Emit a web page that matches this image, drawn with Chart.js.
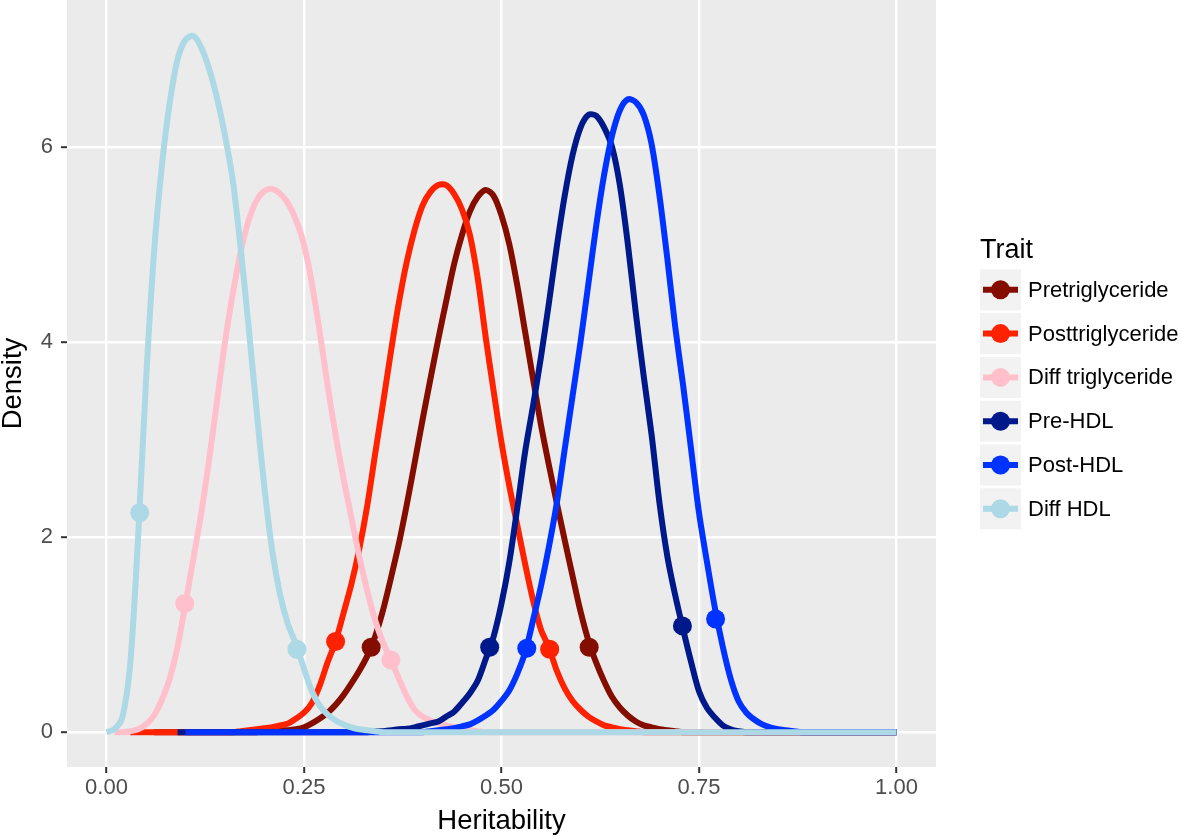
<!DOCTYPE html>
<html>
<head>
<meta charset="utf-8">
<title>Heritability density</title>
<script src="https://cdn.jsdelivr.net/npm/chart.js@4.4.1/dist/chart.umd.min.js"></script>
<style>
    html, body { margin: 0; padding: 0; background: #fff; }
    .chart-box { position: relative; width: 1181px; height: 837px; }
</style>
</head>
<body>
<div class="chart-box"><canvas id="myChart"></canvas></div>
<script>
// data
const traits = ['Pretriglyceride', 'Posttriglyceride', 'Diff triglyceride', 'Pre-HDL', 'Post-HDL', 'Diff HDL']
const colors = ['#840d00', '#ff2200', '#ffc0cb', '#00198a', '#0033ff', '#add8e6']

const heritability = [
    0.00, 0.01, 0.02, 0.03, 0.04, 0.05, 0.06, 0.07, 0.08, 0.09,
    0.10, 0.11, 0.12, 0.13, 0.14, 0.15, 0.16, 0.17, 0.18, 0.19,
    0.20, 0.21, 0.22, 0.23, 0.24, 0.25, 0.26, 0.27, 0.28, 0.29,
    0.30, 0.31, 0.32, 0.33, 0.34, 0.35, 0.36, 0.37, 0.38, 0.39,
    0.40, 0.41, 0.42, 0.43, 0.44, 0.45, 0.46, 0.47, 0.48, 0.49,
    0.50, 0.51, 0.52, 0.53, 0.54, 0.55, 0.56, 0.57, 0.58, 0.59,
    0.60, 0.61, 0.62, 0.63, 0.64, 0.65, 0.66, 0.67, 0.68, 0.69,
    0.70, 0.71, 0.72, 0.73, 0.74, 0.75, 0.76, 0.77, 0.78, 0.79,
    0.80, 0.81, 0.82, 0.83, 0.84, 0.85, 0.86, 0.87, 0.88, 0.89,
    0.90, 0.91, 0.92, 0.93, 0.94, 0.95, 0.96, 0.97, 0.98, 0.99,
    1.00
]

const preTg = [
    null, null, null, null, null, null, 0, 0, 0, 0,
    0, 0, 0, 0, 0, 0, 0, 0, 0, 0,
    0.01, 0.01, 0.02, 0.02, 0.03, 0.05, 0.09, 0.14, 0.2, 0.28,
    0.38, 0.5, 0.63, 0.78, 0.98, 1.25, 1.58, 1.93, 2.33, 2.76,
    3.2, 3.62, 4.03, 4.42, 4.8, 5.1, 5.34, 5.49, 5.56, 5.5,
    5.3, 5.0, 4.58, 4.1, 3.62, 3.15, 2.74, 2.35, 1.97, 1.6,
    1.24, 0.94, 0.71, 0.52, 0.36, 0.25, 0.17, 0.11, 0.07, 0.05,
    0.03, 0.02, 0.01, 0, 0, 0, 0, 0, 0, 0,
    0, 0, 0, 0, 0, 0, 0, 0, 0, 0,
    0, 0, 0, 0, 0, 0, 0, 0, 0, 0,
    0
]

const postTg = [
    null, null, null, 0, 0, 0, 0, 0, 0, 0,
    0, 0, 0, 0, 0, 0, 0, 0.01, 0.02, 0.03,
    0.04, 0.05, 0.07, 0.09, 0.14, 0.2, 0.3, 0.48, 0.72, 0.93,
    1.22, 1.52, 1.88, 2.32, 2.85, 3.37, 3.9, 4.4, 4.82, 5.15,
    5.4, 5.54, 5.61, 5.61, 5.52, 5.36, 5.1, 4.65, 4.05, 3.5,
    2.97, 2.52, 2.12, 1.72, 1.35, 1.05, 0.87, 0.63, 0.45, 0.32,
    0.23, 0.16, 0.11, 0.07, 0.05, 0.03, 0.02, 0.01, 0, 0,
    0, 0, 0, 0, 0, 0, 0, 0, 0, 0,
    0, 0, 0, 0, 0, 0, 0, 0, 0, 0,
    0, 0, 0, 0, 0, 0, 0, 0, 0, 0,
    0
]

const diffTg = [
    null, 0, 0, 0.01, 0.03, 0.08, 0.17, 0.33, 0.55, 0.88,
    1.32, 1.78, 2.25, 2.8, 3.4, 4.0, 4.5, 4.93, 5.25, 5.45,
    5.55, 5.57, 5.52, 5.42, 5.25, 5.0, 4.6, 4.1, 3.55, 3.05,
    2.6, 2.2, 1.8, 1.45, 1.15, 0.92, 0.74, 0.55, 0.37, 0.23,
    0.16, 0.12, 0.09, 0.07, 0.05, 0.03, 0.02, 0.01, 0, 0,
    0, 0, 0, 0, 0, 0, 0, 0, 0, 0,
    0, 0, 0, 0, 0, 0, 0, 0, 0, 0,
    0, 0, 0, 0, 0, 0, 0, 0, 0, 0,
    0, 0, 0, 0, 0, 0, 0, 0, 0, 0,
    0, 0, 0, 0, 0, 0, 0, 0, 0, 0,
    0
]

const preHdl = [
    null, null, null, null, null, null, null, null, null, 0,
    0, 0, 0, 0, 0, 0, 0, 0, 0, 0,
    0, 0, 0, 0, 0, 0, 0, 0, 0, 0,
    0, 0, 0, 0, 0.01, 0.01, 0.02, 0.03, 0.035, 0.05,
    0.07, 0.09, 0.11, 0.16, 0.21, 0.3, 0.4, 0.53, 0.75, 0.98,
    1.32, 1.75, 2.3, 2.88, 3.35, 3.85, 4.4, 4.98, 5.5, 5.92,
    6.2, 6.33, 6.32, 6.2, 6.0, 5.6, 5.0, 4.3, 3.65, 3.05,
    2.35, 1.8, 1.4, 1.05, 0.72, 0.42, 0.25, 0.15, 0.07, 0.03,
    0.01, 0, 0, 0, 0, 0, 0, 0, 0, 0,
    0, 0, 0, 0, 0, 0, 0, 0, 0, 0,
    0
]

const postHdl = [
    null, null, null, null, null, null, null, null, null, null,
    0, 0, 0, 0, 0, 0, 0, 0, 0, 0,
    0, 0, 0, 0, 0, 0, 0, 0, 0, 0,
    0, 0, 0, 0, 0, 0, 0, 0, 0, 0,
    0, 0.01, 0.02, 0.03, 0.04, 0.06, 0.08, 0.12, 0.17, 0.23,
    0.32, 0.43, 0.6, 0.82, 1.15, 1.5, 1.9, 2.35, 2.9, 3.45,
    4.0, 4.6, 5.2, 5.72, 6.12, 6.38, 6.49, 6.46, 6.33, 6.03,
    5.5, 4.85, 4.15, 3.55, 2.9, 2.25, 1.75, 1.28, 0.88, 0.55,
    0.32, 0.2, 0.13, 0.08, 0.05, 0.03, 0.02, 0.01, 0, 0,
    0, 0, 0, 0, 0, 0, 0, 0, 0, 0,
    0
]

const diffHdl = [
    0, 0.03, 0.15, 0.7, 2.0, 3.6, 4.9, 5.8, 6.45, 6.9,
    7.1, 7.14, 7.02, 6.8, 6.5, 6.12, 5.65, 4.95, 4.15, 3.3,
    2.5, 1.85, 1.4, 1.1, 0.9, 0.65, 0.42, 0.27, 0.18, 0.12,
    0.08, 0.05, 0.03, 0.02, 0.01, 0, 0, 0, 0, 0,
    0, 0, 0, 0, 0, 0, 0, 0, 0, 0,
    0, 0, 0, 0, 0, 0, 0, 0, 0, 0,
    0, 0, 0, 0, 0, 0, 0, 0, 0, 0,
    0, 0, 0, 0, 0, 0, 0, 0, 0, 0,
    0, 0, 0, 0, 0, 0, 0, 0, 0, 0,
    0, 0, 0, 0, 0, 0, 0, 0, 0, 0,
    0
]

// interval bounds [heritability, density]
const preTgCI = [[0.335, 0.87], [0.611, 0.87]]
const postTgCI = [[0.290, 0.93], [0.561, 0.85]]
const diffTgCI = [[0.099, 1.32], [0.360, 0.74]]
const preHdlCI = [[0.485, 0.87], [0.729, 1.09]]
const postHdlCI = [[0.532, 0.86], [0.771, 1.16]]
const diffHdlCI = [[0.042, 2.25], [0.241, 0.85]]

// axis ticks
const xMajor = [0, 0.25, 0.5, 0.75, 1]
const xMinor = [0.125, 0.375, 0.625, 0.875]
const yMajor = [0, 2, 4, 6]
const yMinor = [1, 3, 5, 7]

const series = [preTg, postTg, diffTg, preHdl, postHdl, diffHdl]
const intervals = [preTgCI, postTgCI, diffTgCI, preHdlCI, postHdlCI, diffHdlCI]

const fontFamily = '"Liberation Sans", Arial, Helvetica, sans-serif'
Chart.defaults.font.family = fontFamily

const isMajor = (list, v) => list.some(m => Math.abs(m - v) < 1e-6)

// panel background
const panelBg = {
    id: 'panelBg',
    beforeDraw(chart) {
        const { ctx, chartArea: a } = chart
        ctx.save()
        ctx.fillStyle = '#ebebeb'
        ctx.fillRect(a.left, a.top, a.right - a.left, a.bottom - a.top)
        ctx.restore()
    }
}

// legend drawn like the ggplot key
const traitKey = {
    id: 'traitKey',
    afterDraw(chart) {
        const ctx = chart.ctx
        const x0 = chart.chartArea.right + 44
        ctx.save()
        ctx.fillStyle = '#000'
        ctx.font = '27px ' + fontFamily
        ctx.textBaseline = 'alphabetic'
        ctx.textAlign = 'left'
        ctx.fillText('Trait', x0, 257.5)
        traits.forEach((name, i) => {
            const top = 269.3 + i * 43.8
            const cy = top + 20.5
            ctx.fillStyle = '#f2f2f2'
            ctx.fillRect(x0, top, 41, 41)
            ctx.strokeStyle = colors[i]
            ctx.lineWidth = 6
            ctx.beginPath()
            ctx.moveTo(x0 + 3, cy)
            ctx.lineTo(x0 + 38, cy)
            ctx.stroke()
            ctx.fillStyle = colors[i]
            ctx.beginPath()
            ctx.arc(x0 + 20.5, cy, 9.5, 0, Math.PI * 2)
            ctx.fill()
            ctx.fillStyle = '#000'
            ctx.font = '22px ' + fontFamily
            ctx.textBaseline = 'middle'
            ctx.fillText(name, x0 + 48, cy + 1)
        })
        ctx.restore()
    }
}

const lineSets = series.map((s, i) => ({
    type: 'line',
    label: traits[i],
    data: heritability.map((h, j) => ({ x: h, y: s[j] })),
    borderColor: colors[i],
    borderWidth: 6,
    pointRadius: 0,
    fill: false,
    tension: 0.3,
    order: 10 - i
}))

const pointSets = intervals.map((pts, i) => ({
    type: 'line',
    label: traits[i] + ' interval',
    data: pts.map(p => ({ x: p[0], y: p[1] })),
    showLine: false,
    pointRadius: 9.5,
    pointBackgroundColor: colors[i],
    pointBorderColor: colors[i],
    pointBorderWidth: 0,
    order: 0
}))

const ctx = document.getElementById('myChart')

new Chart(ctx, {
    type: 'line',
    data: { datasets: [...lineSets, ...pointSets] },
    options: {
        responsive: true,
        maintainAspectRatio: false,
        animation: false,
        layout: { autoPadding: false, padding: { left: 0, top: 0, right: 245, bottom: 0 } },
        plugins: {
            legend: { display: false },
            tooltip: { enabled: false }
        },
        scales: {
            x: {
                type: 'linear',
                min: -0.05,
                max: 1.05,
                afterBuildTicks: s => { s.ticks = [...xMajor, ...xMinor].sort((a, b) => a - b).map(v => ({ value: v })) },
                afterFit: s => {
                    s.height = 70
                    s.paddingLeft = 0
                    s.paddingRight = 0
                },
                border: { display: false },
                grid: {
                    color: '#ffffff',
                    lineWidth: c => (c.tick && isMajor(xMajor, c.tick.value)) ? 2.4 : 1.2,
                    tickColor: c => (c.tick && isMajor(xMajor, c.tick.value)) ? '#333333' : 'rgba(0,0,0,0)',
                    tickLength: 6,
                    tickWidth: 2
                },
                ticks: {
                    autoSkip: false,
                    maxRotation: 0,
                    padding: 2,
                    color: '#4d4d4d',
                    font: { size: 22 },
                    callback: v => isMajor(xMajor, v) ? v.toFixed(2) : null
                },
                title: {
                    display: true,
                    text: 'Heritability',
                    color: '#000',
                    font: { size: 27.5, lineHeight: 1 },
                    padding: { top: 0, bottom: 2 }
                }
            },
            y: {
                min: -0.357,
                max: 7.508,
                afterBuildTicks: s => { s.ticks = [...yMajor, ...yMinor].sort((a, b) => a - b).map(v => ({ value: v })) },
                afterFit: s => {
                    s.width = 67
                    s.paddingTop = 0
                    s.paddingBottom = 0
                },
                border: { display: false },
                grid: {
                    color: '#ffffff',
                    lineWidth: c => (c.tick && isMajor(yMajor, c.tick.value)) ? 2.4 : 1.2,
                    tickColor: c => (c.tick && isMajor(yMajor, c.tick.value)) ? '#333333' : 'rgba(0,0,0,0)',
                    tickLength: 6,
                    tickWidth: 2
                },
                ticks: {
                    autoSkip: false,
                    padding: 8,
                    color: '#4d4d4d',
                    font: { size: 22 },
                    callback: v => isMajor(yMajor, v) ? String(v) : null
                },
                title: {
                    display: true,
                    text: 'Density',
                    color: '#000',
                    font: { size: 27.5, lineHeight: 1 },
                    padding: { top: 0, bottom: 0 }
                }
            }
        }
    },
    plugins: [panelBg, traitKey]
});
</script>
</body>
</html>
